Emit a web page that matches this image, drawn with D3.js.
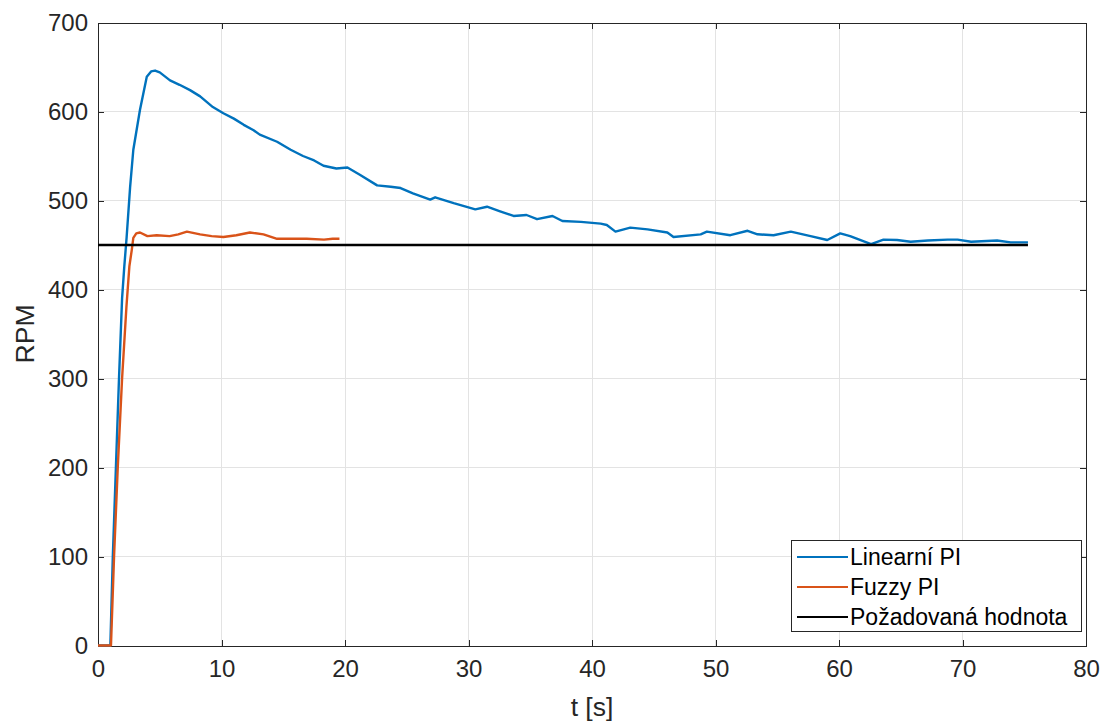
<!DOCTYPE html>
<html>
<head>
<meta charset="utf-8">
<script src="https://cdn.jsdelivr.net/npm/d3@7"></script>
<style>
  html, body { margin: 0; padding: 0; background: #fff; }
  svg { display: block; font-family: "Liberation Sans", Arial, Helvetica, sans-serif; }
</style>
</head>
<body>
<svg id="chart" width="1105" height="725"></svg>
<script>
// ---- data ----
const xTicks = [0, 10, 20, 30, 40, 50, 60, 70, 80];
const yTicks = [0, 100, 200, 300, 400, 500, 600, 700];
const seriesNames = ["Linearní PI", "Fuzzy PI", "Požadovaná hodnota"];

const linearT = [0,1.0,1.2,1.45,1.7,1.95,2.13,2.32,2.6,2.86,3.4,3.95,4.3,4.62,5.0,5.83,6.6,7.45,8.27,9.3,10.15,11.0,11.8,12.6,13.1,14.5,15.6,16.6,17.5,18.26,19.3,20.2,21.2,22.6,23.7,24.5,25.5,26.9,27.3,28.8,30.55,31.5,32.5,33.65,34.7,35.55,36.8,37.6,39.1,40.7,41.2,41.9,43.1,44.5,46.1,46.6,48.8,49.3,51.2,52.6,53.4,54.7,56.1,57.7,59.05,60.1,60.9,62.6,63.6,64.7,65.8,67.2,68.8,69.6,70.7,72.8,73.9,75.3];
const linearV = [0,0,100,200,300,390,426,459,515,557,602,639,645,646,644,635,630,624,617,605,598,592,585,579,574,566,557,550,545,539,536,537,529,517,515.5,514,508,501,503.6,497,490,493,488,482.6,483.7,479,482.6,477,476,474,472.5,465,469.5,467.6,464,459,462,465,461,466,462,461,465,460,455.6,463,460,451,456,455.6,453.7,455,456,456,453.7,455,453,453];

const fuzzyT = [0,1.05,1.3,1.6,1.95,2.3,2.54,2.73,2.86,3.1,3.4,4.0,4.75,5.8,6.5,7.2,8.27,9.2,10.15,11.2,12.3,13.4,14.5,15.5,16.9,18.3,19.0,19.55];
const fuzzyV = [0,0,100,200,300,380,426,444,458,463,464,460,461,460,462,465,462,460,459,461,464,462,457,457,457,456,457,457];

const setT = [0, 75.3];
const setV = [450, 450];

const colors = ["#0072BD", "#D95319", "#000000"];

// ---- layout ----
const svg = d3.select("#chart");
const mLeft = 98, mRight = 1086, mTop = 22.5, mBottom = 645.5;
const x = d3.scaleLinear().domain([0, 80]).range([mLeft, mRight]);
const y = d3.scaleLinear().domain([0, 700]).range([mBottom, mTop]);
const axisColor = "#262626";

// grid
const g = svg.append("g");
g.selectAll(".gx").data(xTicks.slice(1, -1)).enter().append("line")
  .attr("x1", d => x(d)).attr("x2", d => x(d)).attr("y1", mTop).attr("y2", mBottom)
  .attr("stroke", "#e3e3e3").attr("stroke-width", 1).attr("shape-rendering", "crispEdges");
g.selectAll(".gy").data(yTicks.slice(1, -1)).enter().append("line")
  .attr("x1", mLeft).attr("x2", mRight).attr("y1", d => y(d)).attr("y2", d => y(d))
  .attr("stroke", "#e3e3e3").attr("stroke-width", 1).attr("shape-rendering", "crispEdges");

// axes
const xAxis = d3.axisBottom(x).tickValues(xTicks).tickSize(-6).tickPadding(14).tickFormat(d3.format("d"));
const yAxis = d3.axisLeft(y).tickValues(yTicks).tickSize(-6).tickPadding(10).tickFormat(d3.format("d"));
const xa = svg.append("g").attr("transform", `translate(0,${mBottom})`).call(xAxis);
const ya = svg.append("g").attr("transform", `translate(${mLeft},0)`).call(yAxis);
const xt = svg.append("g").attr("transform", `translate(0,${mTop})`).call(d3.axisTop(x).tickValues(xTicks).tickSize(-6).tickFormat(""));
const yr = svg.append("g").attr("transform", `translate(${mRight},0)`).call(d3.axisRight(y).tickValues(yTicks).tickSize(-6).tickFormat(""));
[xa, ya, xt, yr].forEach(a => {
  a.selectAll("path").attr("stroke", axisColor).attr("stroke-width", 1).attr("shape-rendering", "crispEdges");
  a.selectAll("line").attr("stroke", axisColor).attr("shape-rendering", "crispEdges");
  a.selectAll("text").attr("fill", axisColor).attr("font-size", 24)
    .attr("font-family", "'Liberation Sans', Arial, sans-serif");
});

// data lines
const line = d3.line().x(d => x(d[0])).y(d => y(d[1]));
const series = [
  d3.zip(linearT, linearV),
  d3.zip(fuzzyT, fuzzyV),
  d3.zip(setT, setV)
];
series.forEach((s, i) => {
  svg.append("path").datum(s).attr("d", line)
    .attr("fill", "none").attr("stroke", colors[i]).attr("stroke-width", 2.4)
    .attr("stroke-linejoin", "round");
});

// axis labels
svg.append("text").attr("x", (mLeft + mRight) / 2).attr("y", 716)
  .attr("text-anchor", "middle").attr("font-size", 26.5).attr("fill", axisColor).text("t [s]");
svg.append("text").attr("transform", `translate(34,${(mTop + mBottom) / 2}) rotate(-90)`)
  .attr("text-anchor", "middle").attr("font-size", 26.5).attr("fill", axisColor).text("RPM");

// legend
const lg = svg.append("g");
lg.append("rect").attr("x", 791.5).attr("y", 540.5).attr("width", 290).attr("height", 91)
  .attr("fill", "#fff").attr("stroke", axisColor).attr("stroke-width", 1);
const rowY = [557, 587, 617];
seriesNames.forEach((n, i) => {
  lg.append("line").attr("x1", 797).attr("x2", 848).attr("y1", rowY[i]).attr("y2", rowY[i])
    .attr("stroke", colors[i]).attr("stroke-width", 2);
  lg.append("text").attr("x", 850).attr("y", rowY[i]).attr("dy", "0.35em")
    .attr("font-size", 23).attr("fill", "#000").text(n);
});
</script>
</body>
</html>
